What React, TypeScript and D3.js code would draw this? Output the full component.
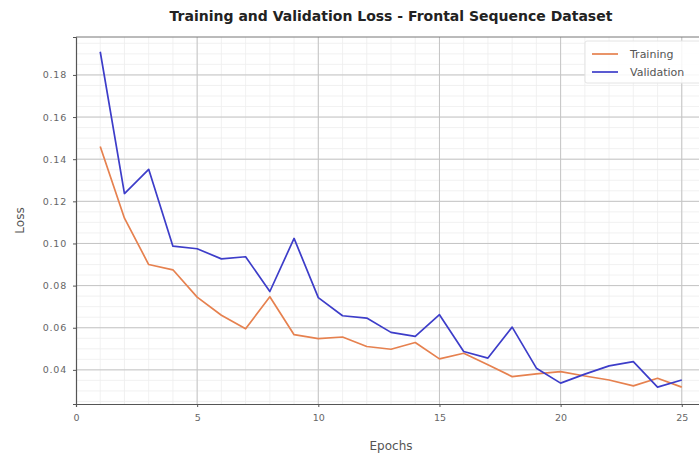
import React, { useEffect, useRef } from "react";
import * as d3 from "d3";

const epochs = d3.range(1, 26);
const trainingLoss = [
  0.146, 0.112, 0.09, 0.0875, 0.0745, 0.0659, 0.0595, 0.0747, 0.0567, 0.0548,
  0.0556, 0.0511, 0.0498, 0.053, 0.0452, 0.0479, 0.0424, 0.0368, 0.0381, 0.0392,
  0.0371, 0.0352, 0.0324, 0.036, 0.0318,
];
const validationLoss = [
  0.191, 0.1237, 0.1352, 0.0987, 0.0975, 0.0927, 0.0937, 0.0772, 0.1024, 0.0743,
  0.0657, 0.0646, 0.0578, 0.0559, 0.0662, 0.0487, 0.0456, 0.0603, 0.0408, 0.0337,
  0.038, 0.0419, 0.0439, 0.0318, 0.0352,
];
const xTicks = [0, 5, 10, 15, 20, 25];
const yTicks = [0.04, 0.06, 0.08, 0.1, 0.12, 0.14, 0.16, 0.18];
const seriesNames = ["Training", "Validation"];
const seriesColors = ["#e6814f", "#3d3dc9"];

const App = () => {
  const svgRef = useRef<SVGSVGElement>(null);

  useEffect(() => {
    const width = 699;
    const height = 454;
    const margin = { top: 37, right: -7, bottom: 50, left: 76 };

    const svg = d3.select(svgRef.current);
    svg.selectAll("*").remove();

    const x = d3.scaleLinear().domain([0, 26]).range([margin.left, width - margin.right]);
    const y = d3.scaleLinear().domain([0.0238, 0.198]).range([height - margin.bottom, margin.top]);

    const font = "'DejaVu Sans', sans-serif";

    svg.append("rect").attr("width", width).attr("height", height).attr("fill", "#fff");

    // minor grid
    const g = svg.append("g");
    g.selectAll(".vminor")
      .data(d3.range(1, 26))
      .join("line")
      .attr("x1", (d) => x(d))
      .attr("x2", (d) => x(d))
      .attr("y1", y.range()[0])
      .attr("y2", y.range()[1])
      .attr("stroke", "#ededed")
      .attr("stroke-width", 0.8);
    g.selectAll(".hminor")
      .data(d3.range(0.025, 0.198, 0.005))
      .join("line")
      .attr("x1", x.range()[0])
      .attr("x2", x.range()[1])
      .attr("y1", (d) => y(d))
      .attr("y2", (d) => y(d))
      .attr("stroke", "#ededed")
      .attr("stroke-width", 0.8);

    // major grid
    g.selectAll(".vmajor")
      .data(xTicks.slice(1))
      .join("line")
      .attr("x1", (d) => x(d))
      .attr("x2", (d) => x(d))
      .attr("y1", y.range()[0])
      .attr("y2", y.range()[1])
      .attr("stroke", "#c4c4c4")
      .attr("stroke-width", 1);
    g.selectAll(".hmajor")
      .data(yTicks)
      .join("line")
      .attr("x1", x.range()[0])
      .attr("x2", x.range()[1])
      .attr("y1", (d) => y(d))
      .attr("y2", (d) => y(d))
      .attr("stroke", "#c4c4c4")
      .attr("stroke-width", 1);

    // axes
    const xAxis = svg
      .append("g")
      .attr("transform", `translate(0,${y.range()[0]})`)
      .call(d3.axisBottom(x).tickValues(xTicks).tickSize(3).tickPadding(7).tickFormat(d3.format("d")));
    const yAxis = svg
      .append("g")
      .attr("transform", `translate(${x.range()[0]},0)`)
      .call(d3.axisLeft(y).tickValues(yTicks).tickSize(3).tickPadding(6).tickFormat(d3.format(".2f")));
    [xAxis, yAxis].forEach((a) => {
      a.select(".domain").attr("stroke", "#555").attr("stroke-width", 1.2);
      a.selectAll(".tick line").attr("stroke", "#555");
      a.selectAll("text").attr("fill", "#666").style("font-family", font);
    });
    xAxis.selectAll("text").style("font-size", "9.5px");
    yAxis.selectAll("text").style("font-size", "9.5px").style("letter-spacing", "0.8px");

    // top border
    svg
      .append("line")
      .attr("x1", x.range()[0])
      .attr("x2", x.range()[1])
      .attr("y1", y.range()[1])
      .attr("y2", y.range()[1])
      .attr("stroke", "#777")
      .attr("stroke-width", 1);

    const line = d3
      .line<number>()
      .x((_, i) => x(epochs[i]))
      .y((d) => y(d));

    [trainingLoss, validationLoss].forEach((s, i) => {
      svg
        .append("path")
        .datum(s)
        .attr("d", line)
        .attr("fill", "none")
        .attr("stroke", seriesColors[i])
        .attr("stroke-width", 1.7)
        .attr("stroke-linejoin", "round");
    });

    // legend
    const lg = svg.append("g").attr("transform", "translate(585,41)");
    lg.append("rect")
      .attr("width", 120)
      .attr("height", 42)
      .attr("rx", 2)
      .attr("fill", "#fff")
      .attr("fill-opacity", 0.85)
      .attr("stroke", "#e4e4e4");
    seriesNames.forEach((name, i) => {
      lg.append("line")
        .attr("x1", 7)
        .attr("x2", 33)
        .attr("y1", 13 + i * 18)
        .attr("y2", 13 + i * 18)
        .attr("stroke", seriesColors[i])
        .attr("stroke-width", 1.7);
      lg.append("text")
        .attr("x", 45)
        .attr("y", 17 + i * 18)
        .attr("fill", "#555")
        .style("font-family", font)
        .style("font-size", "11px")
        .text(name);
    });

    svg
      .append("text")
      .attr("x", (x.range()[0] + x.range()[1]) / 2)
      .attr("y", 21)
      .attr("text-anchor", "middle")
      .attr("fill", "#222")
      .style("font-family", font)
      .style("font-size", "14px")
      .style("font-weight", "bold")
      .text("Training and Validation Loss - Frontal Sequence Dataset");

    svg
      .append("text")
      .attr("x", (x.range()[0] + x.range()[1]) / 2)
      .attr("y", 450)
      .attr("text-anchor", "middle")
      .attr("fill", "#555")
      .style("font-family", font)
      .style("font-size", "12px")
      .text("Epochs");

    svg
      .append("text")
      .attr("transform", `translate(24,${(y.range()[0] + y.range()[1]) / 2}) rotate(-90)`)
      .attr("text-anchor", "middle")
      .attr("fill", "#555")
      .style("font-family", font)
      .style("font-size", "12px")
      .text("Loss");
  }, []);

  return (
    <svg
      ref={svgRef}
      width={699}
      height={454}
      style={{ position: "absolute", left: 0, top: 0, display: "block" }}
    ></svg>
  );
};

export default App;
